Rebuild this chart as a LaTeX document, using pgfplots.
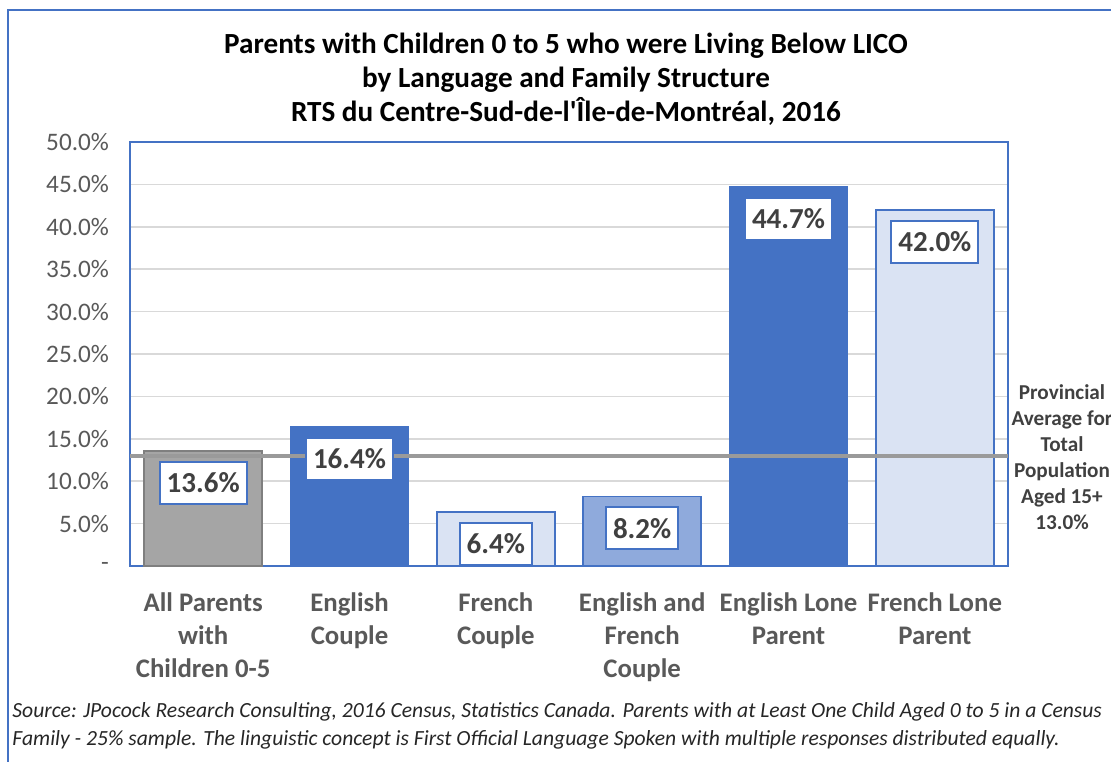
\documentclass[border=0pt]{standalone}
\usepackage{fontspec}
\setmainfont{Carlito}
\usepackage{pgfplots}
\pgfplotsset{compat=1.18}
\definecolor{xlblue}{HTML}{4472C4}
\definecolor{xlmid}{HTML}{8FAADC}
\definecolor{xllight}{HTML}{DAE3F3}
\definecolor{xlgray}{HTML}{A5A5A5}
\definecolor{xlgrayedge}{HTML}{7F7F7F}
\definecolor{ticktext}{HTML}{595959}
\definecolor{labtext}{HTML}{404040}
\definecolor{gridc}{HTML}{D9D9D9}
\definecolor{avgline}{HTML}{9A9A9A}

\pgfplotsset{
  mybar/.style={ybar, bar width=0.806, bar shift=0pt},
}

\begin{document}
\begin{tikzpicture}
\useasboundingbox (0,0) rectangle (555.5pt,-380.5pt);
\begin{scope}
\clip (0,0) rectangle (555.5pt,-380.5pt);
\draw[xlblue, line width=1pt] (4pt,-5pt) rectangle (600pt,-420pt);
\end{scope}

\node[font=\bfseries\fontsize{14.6}{17}\selectfont, align=center] at (283pt,-39.5pt)
  {Parents with Children 0 to 5 who were Living Below LICO\\
   by Language and Family Structure\\
   RTS du Centre-Sud-de-l\textquotesingle Île-de-Montréal, 2016};

\begin{axis}[
    at={(65pt,-283pt)}, anchor=south west,
    scale only axis, width=439pt, height=212pt,
    xmin=-0.5, xmax=5.5, ymin=0, ymax=50,
    xtick={0,...,5},
    xticklabels={All Parents\\with\\Children 0-5, English\\Couple, French\\Couple,
                 English and\\French\\Couple, English Lone\\Parent, French Lone\\Parent},
    ytick={0,5,...,50},
    yticklabels={-,5.0\%,10.0\%,15.0\%,20.0\%,25.0\%,30.0\%,35.0\%,40.0\%,45.0\%,50.0\%},
    major tick length=0pt,
    ymajorgrids, grid style={gridc, line width=0.8pt},
    axis line style={xlblue, line width=1pt},
    xticklabel style={font=\bfseries\fontsize{13.4}{16.5}\selectfont, text=ticktext,
                      align=center, anchor=north, yshift=-10pt},
    yticklabel style={font=\fontsize{12.6}{14}\selectfont, text=ticktext,
                      anchor=east, xshift=-7pt},
]
  \addplot[mybar, fill=xlgray, draw=xlgrayedge, line width=1pt] coordinates {(0,13.6)};
  \addplot[mybar, fill=xlblue, draw=xlblue, line width=0.8pt] coordinates {(1,16.4)};
  \addplot[mybar, fill=xllight, draw=xlblue, line width=0.8pt] coordinates {(2,6.4)};
  \addplot[mybar, fill=xlmid, draw=xlblue, line width=0.8pt] coordinates {(3,8.2)};
  \addplot[mybar, fill=xlblue, draw=xlblue, line width=0.8pt] coordinates {(4,44.7)};
  \addplot[mybar, fill=xllight, draw=xlblue, line width=0.8pt] coordinates {(5,42.0)};
  % provincial average
  \addplot[avgline, line width=2pt] coordinates {(-0.5,13.0) (5.5,13.0)};
  % data labels, drawn last so they sit above the average line
  \addplot[mybar, draw=none, fill=none,
      nodes near coords={\pgfmathprintnumber[fixed,fixed zerofill,precision=1,assume math mode=true]{\pgfplotspointmeta}\%},
      every node near coord/.append style={anchor=north, fill=white, draw=xlblue, line width=1pt,
          text=labtext, font=\bfseries\fontsize{14.5}{16}\selectfont,
          inner xsep=3.5pt, minimum height=21pt, yshift=-5pt}]
      coordinates {(0,13.6) (1,16.4) (2,6.4) (3,8.2) (4,44.7) (5,42.0)};
\end{axis}

\begin{scope}
\clip (0,0) rectangle (555.5pt,-380.5pt);
\node[font=\bfseries\fontsize{10.6}{13}\selectfont, text=labtext, align=center] at (531pt,-228.5pt)
  {Provincial\\Average for\\Total\\Population\\Aged 15+\\13.0\%};
\end{scope}

\node[anchor=west, font=\itshape\fontsize{10.8}{14}\selectfont, align=left, text=black!85] at (2.7pt,-363pt)
  {Source: JPocock Research Consulting, 2016 Census, Statistics Canada. Parents with at Least One Child Aged 0 to 5 in a Census\\
   Family - 25\% sample. The linguistic concept is First Official Language Spoken with multiple responses distributed equally.};
\end{tikzpicture}
\end{document}
